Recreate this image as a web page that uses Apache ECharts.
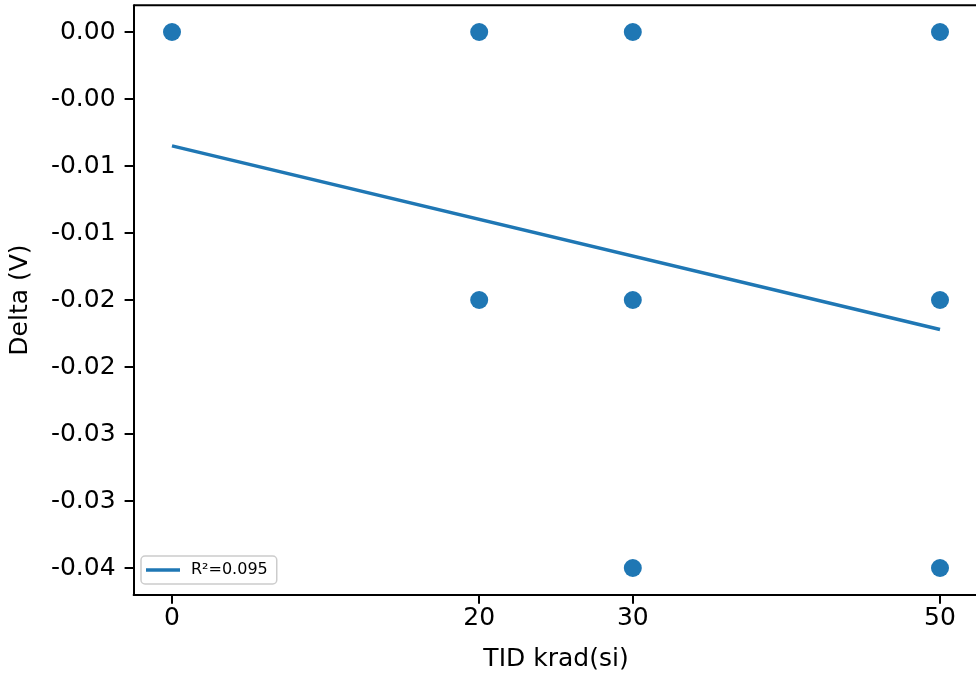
<!DOCTYPE html>
<html><head><meta charset="utf-8">
<script src="https://cdn.jsdelivr.net/npm/echarts@6/dist/echarts.min.js"></script>
<style>html,body{margin:0;padding:0;background:#fff}#c{width:976px;height:680px}</style>
</head><body><div id="c"></div>
<script>
const tidX = [0, 20, 20, 30, 30, 30, 50, 50, 50];
const deltaY = [0, 0, -0.02, 0, -0.02, -0.04, 0, -0.02, -0.04];
const fitX = [0, 50];
const fitY = [-0.0085, -0.0222];
const xTicks = [0, 20, 30, 50];
const yTicks = [0, -0.005, -0.01, -0.015, -0.02, -0.025, -0.03, -0.035, -0.04];
const yTickLabels = ['0.00', '-0.00', '-0.01', '-0.01', '-0.02', '-0.02', '-0.03', '-0.03', '-0.04'];
const legendLabel = 'R²=0.095';

const font = 'DejaVu Sans';
const chart = echarts.init(document.getElementById('c'), null, {renderer: 'canvas'});
chart.setOption({
  animation: false,
  textStyle: {fontFamily: font},
  grid: {left: 133.6, top: 5.2, width: 844.8, height: 589.6, containLabel: false, outerBoundsMode: 'none'},
  xAxis: {
    type: 'value', min: -2.5, max: 52.5,
    name: 'TID krad(si)', nameLocation: 'middle', nameGap: 52,
    nameTextStyle: {fontSize: 25, color: '#000', fontFamily: font},
    axisLine: {show: true, onZero: false, lineStyle: {color: '#000', width: 2}},
    axisTick: {show: true, length: 9, lineStyle: {color: '#000', width: 2}, customValues: xTicks},
    axisLabel: {fontSize: 25, color: '#000', margin: 11, fontFamily: font, customValues: xTicks,
      formatter: v => String(v)},
    splitLine: {show: false}
  },
  yAxis: {
    type: 'value', min: -0.042, max: 0.002,
    name: 'Delta (V)', nameLocation: 'middle', nameGap: 101, nameRotate: 90,
    nameTextStyle: {fontSize: 25, color: '#000', fontFamily: font},
    axisLine: {show: true, onZero: false, lineStyle: {color: '#000', width: 2}},
    axisTick: {show: true, length: 9, lineStyle: {color: '#000', width: 2}, customValues: yTicks},
    axisLabel: {fontSize: 25, color: '#000', margin: 18, fontFamily: font, customValues: yTicks,
      formatter: v => {
        let best = 0, bd = Infinity;
        yTicks.forEach((t, i) => { const d = Math.abs(t - v); if (d < bd) { bd = d; best = i; } });
        return yTickLabels[best];
      }},
    splitLine: {show: false}
  },
  graphic: [
    {type: 'line', shape: {x1: 133.6, y1: 5.2, x2: 978.4, y2: 5.2}, style: {stroke: '#000', lineWidth: 2}, z: 10}
  ],
  legend: {
    show: true, left: 141, top: 556, orient: 'vertical',
    data: [{name: legendLabel, icon: 'path://M0,0 L34,0 L34,3.5 L0,3.5 Z'}],
    itemWidth: 34, itemHeight: 3.5, itemGap: 8,
    padding: [6, 9, 6, 5],
    backgroundColor: 'rgba(255,255,255,0.8)',
    borderColor: '#cccccc', borderWidth: 1.5, borderRadius: 4,
    formatter: n => '{t|' + n + '}',
    textStyle: {fontSize: 16, color: '#000', fontFamily: font,
      rich: {t: {fontSize: 16, color: '#000', fontFamily: font, padding: [0, 0, 0, 6]}}}
  },
  series: [
    {
      type: 'scatter', name: 'data',
      data: tidX.map((x, i) => [x, deltaY[i]]),
      symbolSize: 18,
      itemStyle: {color: '#1f77b4', opacity: 1},
      z: 3
    },
    {
      type: 'line', name: legendLabel,
      data: fitX.map((x, i) => [x, fitY[i]]),
      symbol: 'none', showSymbol: false,
      lineStyle: {color: '#1f77b4', width: 3.5},
      itemStyle: {color: '#1f77b4'},
      z: 2
    }
  ]
});
</script>
</body></html>
